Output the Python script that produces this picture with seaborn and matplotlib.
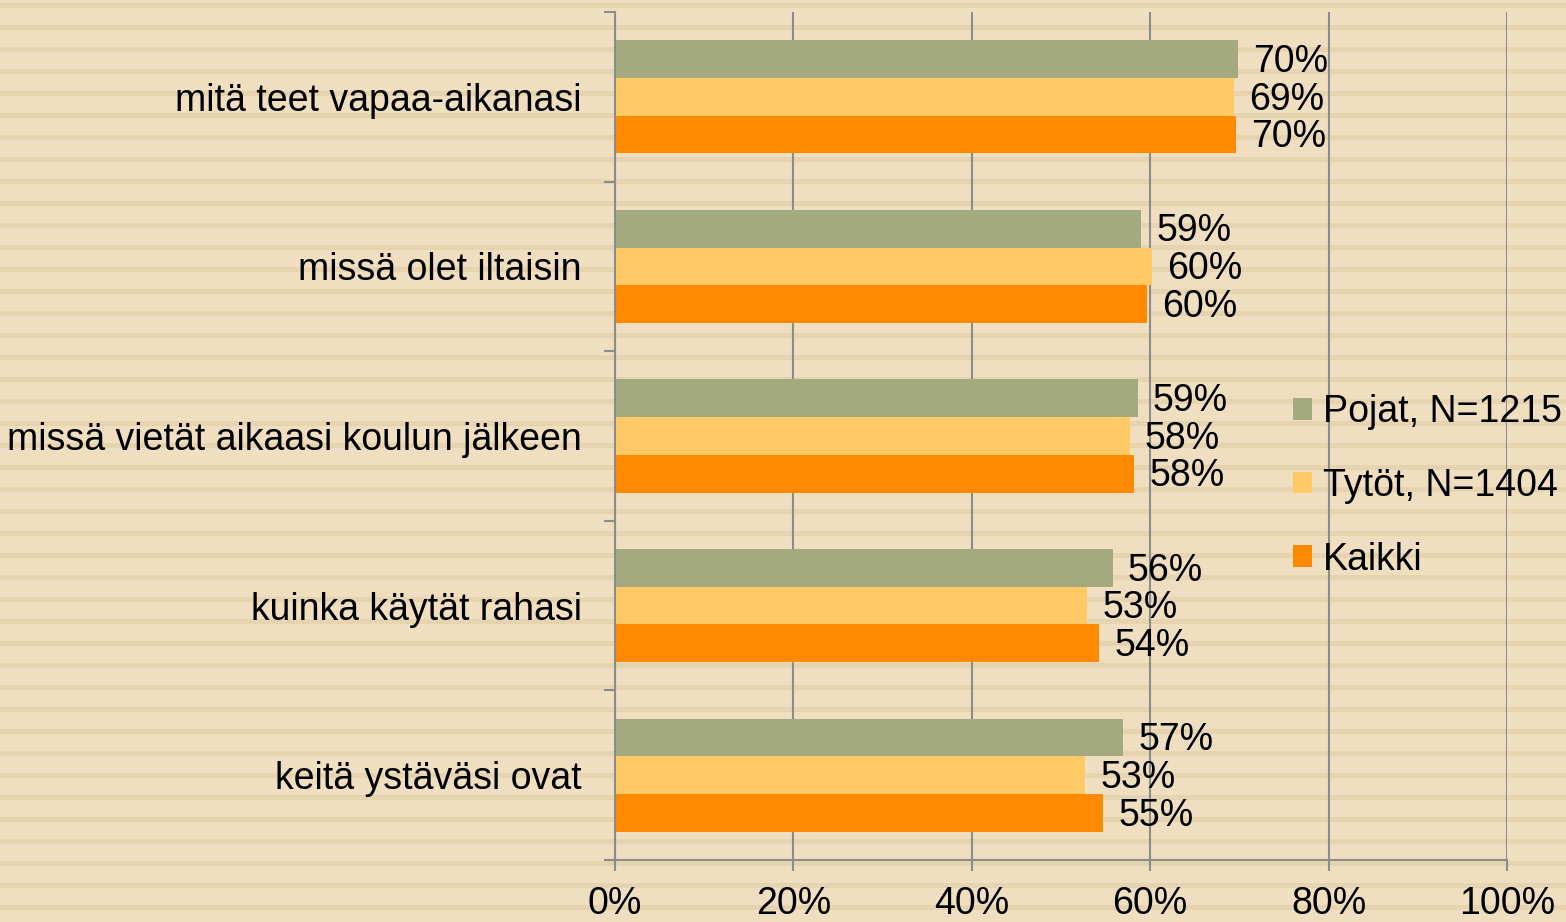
import numpy as np
import pandas as pd
import matplotlib
matplotlib.use('Agg')
import matplotlib.pyplot as plt
import seaborn as sns
from matplotlib.patches import Patch
from matplotlib.ticker import FuncFormatter, FixedLocator

# Data (percent)
categories = ['mitä teet vapaa-aikanasi', 'missä olet iltaisin',
              'missä vietät aikaasi koulun jälkeen', 'kuinka käytät rahasi',
              'keitä ystäväsi ovat']
groups = ['Pojat, N=1215', 'Tytöt, N=1404', 'Kaikki']
pojat = [69.8, 59.0, 58.6, 55.8, 57.0]
tytot = [69.4, 60.2, 57.7, 52.9, 52.7]
kaikki = [69.6, 59.6, 58.2, 54.3, 54.7]
colors = ['#A4AA80', '#FFC966', '#FF8A00']

df = pd.DataFrame({
    'kysymys': categories * 3,
    'ryhma': [groups[0]] * 5 + [groups[1]] * 5 + [groups[2]] * 5,
    'osuus': pojat + tytot + kaikki,
})

sns.set_theme(style='white')
plt.rcParams['font.family'] = ['Liberation Sans', 'DejaVu Sans']
plt.rcParams['text.color'] = 'black'
plt.rcParams['xtick.color'] = 'black'
plt.rcParams['ytick.color'] = 'black'

BG = '#EFDFC0'
STRIPE = '#E5D4AF'
GRID = '#8C8C8C'
FS = 27

fig = plt.figure(figsize=(15.66, 9.22), dpi=100, facecolor=BG)

# striped background
bg = fig.add_axes([0, 0, 1, 1], zorder=-10)
bg.set_xlim(0, 1)
bg.set_ylim(922, 0)
bg.set_facecolor(BG)
for y0 in np.arange(3, 922, 22.0):
    bg.axhspan(y0, y0 + 5, color=STRIPE, lw=0)
bg.axis('off')

ax = fig.add_axes([615 / 1566, 1 - 860 / 922, (1507 - 615) / 1566, (860 - 12) / 922])
ax.set_facecolor('none')

sns.barplot(data=df, y='kysymys', x='osuus', hue='ryhma', orient='h',
            palette=colors, saturation=1, width=0.667, linewidth=0,
            legend=False, ax=ax)

for cont in ax.containers:
    labels = ax.bar_label(cont, fmt='{:.0f}%', padding=11, fontsize=FS, color='black')
    for t in labels:
        t.set_y(-2)

ax.set_xlim(0, 100)
ax.set_ylim(len(categories) - 0.5, -0.5)
ax.set_xticks([0, 20, 40, 60, 80, 100])
ax.xaxis.set_major_formatter(FuncFormatter(lambda v, p: f'{v:.0f}%'))
ax.set_xlabel('')
ax.set_ylabel('')
ax.grid(axis='x', color=GRID, lw=1.5)
ax.set_axisbelow(True)

for s in ['top', 'right']:
    ax.spines[s].set_visible(False)
for s in ['left', 'bottom']:
    ax.spines[s].set_color(GRID)
    ax.spines[s].set_linewidth(1.5)

ax.tick_params(axis='x', which='major', length=8, width=1.5, color=GRID,
               labelcolor='black', labelsize=FS, pad=11, bottom=True)
ax.tick_params(axis='y', which='major', length=0, labelcolor='black',
               labelsize=FS, pad=24)
ax.yaxis.set_minor_locator(FixedLocator(np.arange(-0.5, len(categories), 1.0)))
ax.tick_params(axis='y', which='minor', length=8, width=1.5, color=GRID, left=True)

handles = [Patch(facecolor=c, edgecolor='none') for c in colors]
fig.legend(handles, groups, loc='center left', bbox_to_anchor=(1293 / 1566, 1 - 486 / 922),
           frameon=False, fontsize=FS, handlelength=0.5, handleheight=0.5,
           handletextpad=0.3, labelspacing=1.0, borderpad=0, borderaxespad=0)

fig.savefig('out.png', dpi=100, facecolor=BG)
